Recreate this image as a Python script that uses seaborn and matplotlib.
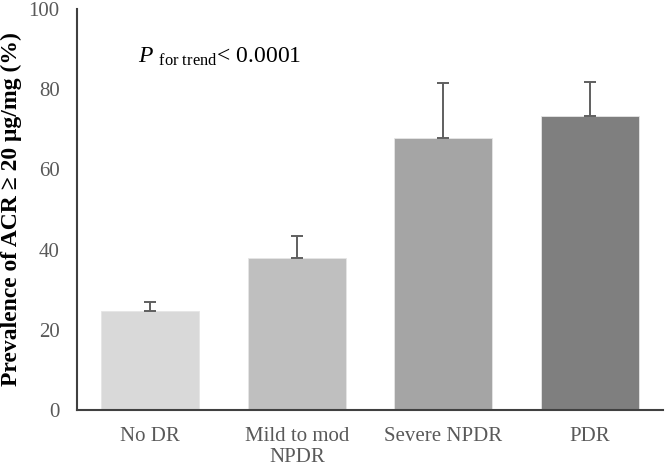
import matplotlib
matplotlib.use("Agg")
import matplotlib.pyplot as plt
import seaborn as sns
import pandas as pd

categories = ["No DR", "Mild to mod\nNPDR", "Severe NPDR", "PDR"]
prevalence = [24.7, 38.0, 67.8, 73.3]
err_upper = [2.2, 5.4, 13.7, 8.5]
bar_colors = ["#d9d9d9", "#bfbfbf", "#a5a5a5", "#7f7f7f"]
yticks = [0, 20, 40, 60, 80, 100]

sns.set_theme(style="white")
plt.rcParams["font.family"] = ["Liberation Serif", "DejaVu Serif"]
plt.rcParams["mathtext.fontset"] = "custom"
plt.rcParams["mathtext.rm"] = "Liberation Serif"
plt.rcParams["mathtext.it"] = "Liberation Serif:italic"

df = pd.DataFrame({"cat": categories, "val": prevalence})

fig = plt.figure(figsize=(6.66, 4.66), dpi=100)
ax = fig.add_axes([0.1156, 0.1202, 0.88, 0.8605])

sns.barplot(data=df, x="cat", y="val", hue="cat", palette=bar_colors,
            legend=False, width=0.67, ax=ax, edgecolor="#e6e6e6", linewidth=0.6)

ax.errorbar(range(len(categories)), prevalence, yerr=[[0]*4, err_upper],
            fmt="none", ecolor="#5f5f5f", elinewidth=1.4, capsize=4.5, capthick=1.4)

ax.set_xlim(-0.5, 3.5)
ax.set_ylim(0, 100)
ax.set_yticks(yticks)
ax.set_xlabel("")
ax.set_ylabel("Prevalence of ACR ≥ 20 μg/mg (%)", fontsize=17, fontweight="bold",
              color="black", labelpad=5)

for s in ["top", "right"]:
    ax.spines[s].set_visible(False)
for s in ["left", "bottom"]:
    ax.spines[s].set_color("#404040")
    ax.spines[s].set_linewidth(1.5)

ax.tick_params(axis="both", which="major", direction="out", length=4.5, width=1.3,
               color="#404040", labelsize=15, labelcolor="#595959")
ax.tick_params(axis="x", pad=7.5)
ax.tick_params(axis="y", pad=8)
for lbl in ax.get_xticklabels():
    lbl.set_linespacing(1.15)
ax.set_xticks([3.5], minor=True)
ax.tick_params(axis="x", which="minor", direction="out", length=4.5, width=1.3, color="#404040")

ax.text(-0.0836, 86.5, r"$\it{P}$ $_{\rm for\ trend}$< 0.0001", fontsize=17,
        color="black", va="baseline", ha="left")

fig.savefig("out.png", dpi=100)
